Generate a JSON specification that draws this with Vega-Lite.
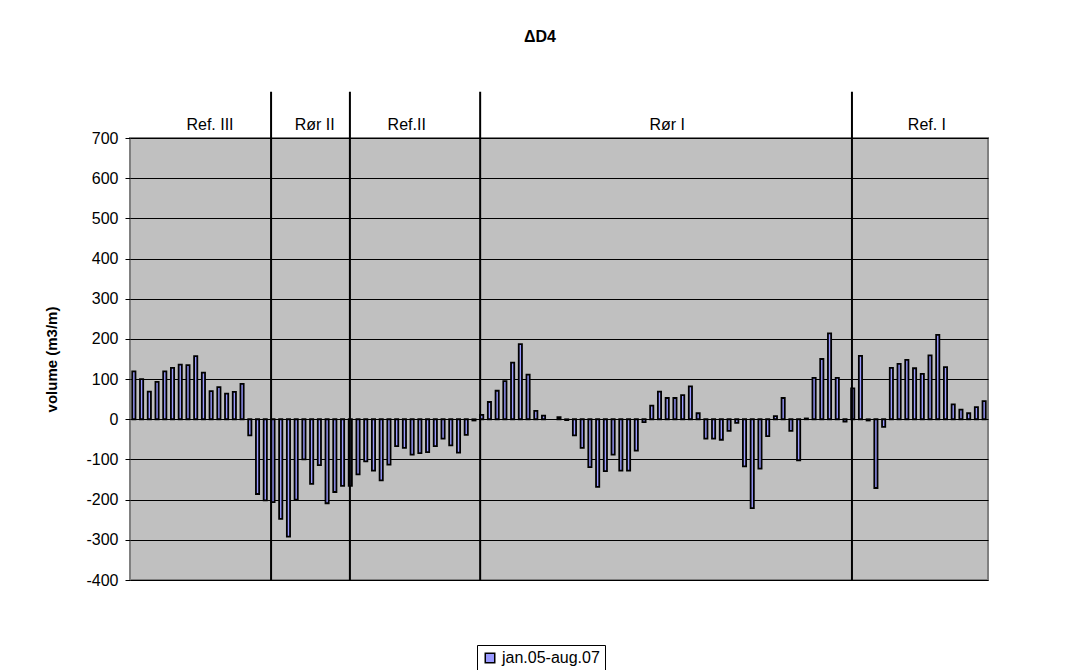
{
  "$schema": "https://vega.github.io/schema/vega-lite/v6.json",
  "autosize": "none",
  "width": 858,
  "height": 442,
  "padding": {"left": 130, "top": 138, "right": 93, "bottom": 90},
  "background": "white",
  "title": {
    "text": "ΔD4",
    "font": "Liberation Sans",
    "fontSize": 16,
    "fontWeight": "bold",
    "color": "black",
    "anchor": "middle",
    "dx": -19,
    "offset": 46
  },
  "config": {
    "view": {"fill": "#C0C0C0", "stroke": "#808080", "strokeWidth": 2},
    "font": "Liberation Sans"
  },
  "datasets": {
    "volumes": [
      {"pos": 1, "v": 119, "serie": "jan.05-aug.07"},
      {"pos": 2, "v": 100, "serie": "jan.05-aug.07"},
      {"pos": 3, "v": 69, "serie": "jan.05-aug.07"},
      {"pos": 4, "v": 93, "serie": "jan.05-aug.07"},
      {"pos": 5, "v": 119, "serie": "jan.05-aug.07"},
      {"pos": 6, "v": 128, "serie": "jan.05-aug.07"},
      {"pos": 7, "v": 136, "serie": "jan.05-aug.07"},
      {"pos": 8, "v": 135, "serie": "jan.05-aug.07"},
      {"pos": 9, "v": 157, "serie": "jan.05-aug.07"},
      {"pos": 10, "v": 116, "serie": "jan.05-aug.07"},
      {"pos": 11, "v": 70, "serie": "jan.05-aug.07"},
      {"pos": 12, "v": 80, "serie": "jan.05-aug.07"},
      {"pos": 13, "v": 64, "serie": "jan.05-aug.07"},
      {"pos": 14, "v": 68, "serie": "jan.05-aug.07"},
      {"pos": 15, "v": 88, "serie": "jan.05-aug.07"},
      {"pos": 16, "v": -40, "serie": "jan.05-aug.07"},
      {"pos": 17, "v": -186, "serie": "jan.05-aug.07"},
      {"pos": 18, "v": -202, "serie": "jan.05-aug.07"},
      {"pos": 19, "v": -206, "serie": "jan.05-aug.07"},
      {"pos": 20, "v": -248, "serie": "jan.05-aug.07"},
      {"pos": 21, "v": -292, "serie": "jan.05-aug.07"},
      {"pos": 22, "v": -200, "serie": "jan.05-aug.07"},
      {"pos": 23, "v": -100, "serie": "jan.05-aug.07"},
      {"pos": 24, "v": -161, "serie": "jan.05-aug.07"},
      {"pos": 25, "v": -114, "serie": "jan.05-aug.07"},
      {"pos": 26, "v": -209, "serie": "jan.05-aug.07"},
      {"pos": 27, "v": -181, "serie": "jan.05-aug.07"},
      {"pos": 28, "v": -166, "serie": "jan.05-aug.07"},
      {"pos": 29, "v": -166, "serie": "jan.05-aug.07"},
      {"pos": 30, "v": -137, "serie": "jan.05-aug.07"},
      {"pos": 31, "v": -105, "serie": "jan.05-aug.07"},
      {"pos": 32, "v": -128, "serie": "jan.05-aug.07"},
      {"pos": 33, "v": -152, "serie": "jan.05-aug.07"},
      {"pos": 34, "v": -113, "serie": "jan.05-aug.07"},
      {"pos": 35, "v": -67, "serie": "jan.05-aug.07"},
      {"pos": 36, "v": -71, "serie": "jan.05-aug.07"},
      {"pos": 37, "v": -88, "serie": "jan.05-aug.07"},
      {"pos": 38, "v": -84, "serie": "jan.05-aug.07"},
      {"pos": 39, "v": -82, "serie": "jan.05-aug.07"},
      {"pos": 40, "v": -67, "serie": "jan.05-aug.07"},
      {"pos": 41, "v": -48, "serie": "jan.05-aug.07"},
      {"pos": 42, "v": -65, "serie": "jan.05-aug.07"},
      {"pos": 43, "v": -83, "serie": "jan.05-aug.07"},
      {"pos": 44, "v": -39, "serie": "jan.05-aug.07"},
      {"pos": 45, "v": -3, "serie": "jan.05-aug.07"},
      {"pos": 46, "v": 11, "serie": "jan.05-aug.07"},
      {"pos": 47, "v": 43, "serie": "jan.05-aug.07"},
      {"pos": 48, "v": 71, "serie": "jan.05-aug.07"},
      {"pos": 49, "v": 95, "serie": "jan.05-aug.07"},
      {"pos": 50, "v": 141, "serie": "jan.05-aug.07"},
      {"pos": 51, "v": 187, "serie": "jan.05-aug.07"},
      {"pos": 52, "v": 111, "serie": "jan.05-aug.07"},
      {"pos": 53, "v": 21, "serie": "jan.05-aug.07"},
      {"pos": 54, "v": 9, "serie": "jan.05-aug.07"},
      {"pos": 56, "v": 5, "serie": "jan.05-aug.07"},
      {"pos": 57, "v": -2, "serie": "jan.05-aug.07"},
      {"pos": 58, "v": -40, "serie": "jan.05-aug.07"},
      {"pos": 59, "v": -71, "serie": "jan.05-aug.07"},
      {"pos": 60, "v": -119, "serie": "jan.05-aug.07"},
      {"pos": 61, "v": -168, "serie": "jan.05-aug.07"},
      {"pos": 62, "v": -129, "serie": "jan.05-aug.07"},
      {"pos": 63, "v": -88, "serie": "jan.05-aug.07"},
      {"pos": 64, "v": -128, "serie": "jan.05-aug.07"},
      {"pos": 65, "v": -128, "serie": "jan.05-aug.07"},
      {"pos": 66, "v": -78, "serie": "jan.05-aug.07"},
      {"pos": 67, "v": -7, "serie": "jan.05-aug.07"},
      {"pos": 68, "v": 34, "serie": "jan.05-aug.07"},
      {"pos": 69, "v": 69, "serie": "jan.05-aug.07"},
      {"pos": 70, "v": 53, "serie": "jan.05-aug.07"},
      {"pos": 71, "v": 53, "serie": "jan.05-aug.07"},
      {"pos": 72, "v": 60, "serie": "jan.05-aug.07"},
      {"pos": 73, "v": 82, "serie": "jan.05-aug.07"},
      {"pos": 74, "v": 15, "serie": "jan.05-aug.07"},
      {"pos": 75, "v": -48, "serie": "jan.05-aug.07"},
      {"pos": 76, "v": -48, "serie": "jan.05-aug.07"},
      {"pos": 77, "v": -51, "serie": "jan.05-aug.07"},
      {"pos": 78, "v": -29, "serie": "jan.05-aug.07"},
      {"pos": 79, "v": -9, "serie": "jan.05-aug.07"},
      {"pos": 80, "v": -117, "serie": "jan.05-aug.07"},
      {"pos": 81, "v": -221, "serie": "jan.05-aug.07"},
      {"pos": 82, "v": -123, "serie": "jan.05-aug.07"},
      {"pos": 83, "v": -42, "serie": "jan.05-aug.07"},
      {"pos": 84, "v": 8, "serie": "jan.05-aug.07"},
      {"pos": 85, "v": 53, "serie": "jan.05-aug.07"},
      {"pos": 86, "v": -29, "serie": "jan.05-aug.07"},
      {"pos": 87, "v": -102, "serie": "jan.05-aug.07"},
      {"pos": 88, "v": 2, "serie": "jan.05-aug.07"},
      {"pos": 89, "v": 103, "serie": "jan.05-aug.07"},
      {"pos": 90, "v": 150, "serie": "jan.05-aug.07"},
      {"pos": 91, "v": 214, "serie": "jan.05-aug.07"},
      {"pos": 92, "v": 103, "serie": "jan.05-aug.07"},
      {"pos": 93, "v": -6, "serie": "jan.05-aug.07"},
      {"pos": 94, "v": 77, "serie": "jan.05-aug.07"},
      {"pos": 95, "v": 158, "serie": "jan.05-aug.07"},
      {"pos": 96, "v": -3, "serie": "jan.05-aug.07"},
      {"pos": 97, "v": -171, "serie": "jan.05-aug.07"},
      {"pos": 98, "v": -19, "serie": "jan.05-aug.07"},
      {"pos": 99, "v": 128, "serie": "jan.05-aug.07"},
      {"pos": 100, "v": 138, "serie": "jan.05-aug.07"},
      {"pos": 101, "v": 148, "serie": "jan.05-aug.07"},
      {"pos": 102, "v": 127, "serie": "jan.05-aug.07"},
      {"pos": 103, "v": 113, "serie": "jan.05-aug.07"},
      {"pos": 104, "v": 159, "serie": "jan.05-aug.07"},
      {"pos": 105, "v": 210, "serie": "jan.05-aug.07"},
      {"pos": 106, "v": 130, "serie": "jan.05-aug.07"},
      {"pos": 107, "v": 37, "serie": "jan.05-aug.07"},
      {"pos": 108, "v": 24, "serie": "jan.05-aug.07"},
      {"pos": 109, "v": 15, "serie": "jan.05-aug.07"},
      {"pos": 110, "v": 30, "serie": "jan.05-aug.07"},
      {"pos": 111, "v": 45, "serie": "jan.05-aug.07"}
    ],
    "dividers": [
      {"pos": 18.75, "bottom": -400, "top": 815},
      {"pos": 28.95, "bottom": -400, "top": 815},
      {"pos": 45.8, "bottom": -400, "top": 815},
      {"pos": 93.9, "bottom": -400, "top": 815}
    ],
    "sections": [
      {"pos": 10.85, "v": 732, "label": "Ref. III"},
      {"pos": 24.4, "v": 732, "label": "Rør II"},
      {"pos": 36.3, "v": 732, "label": "Ref.II"},
      {"pos": 70.0, "v": 732, "label": "Rør I"},
      {"pos": 103.6, "v": 732, "label": "Ref. I"}
    ]
  },
  "layer": [
    {
      "data": {"name": "volumes"},
      "mark": {"type": "bar", "width": 3.2, "stroke": "black", "strokeWidth": 1.8},
      "encoding": {
        "x": {
          "field": "pos",
          "type": "quantitative",
          "scale": {"domain": [0.5, 111.5], "nice": false, "zero": false, "padding": 0},
          "axis": null
        },
        "y": {
          "field": "v",
          "type": "quantitative",
          "scale": {"domain": [-400, 700], "nice": false, "padding": 0},
          "axis": {
            "title": "volume (m3/m)",
            "titleFont": "Liberation Sans",
            "titleFontSize": 15,
            "titleFontWeight": "bold",
            "titleColor": "black",
            "titlePadding": 26,
            "values": [-400, -300, -200, -100, 0, 100, 200, 300, 400, 500, 600, 700],
            "labelExpr": "replace(datum.label, '\u2212', '-')",
            "labelFont": "Liberation Sans",
            "labelFontSize": 16,
            "labelColor": "black",
            "labelPadding": 7,
            "tickColor": "black",
            "tickSize": 5,
            "domain": false,
            "grid": true,
            "gridColor": "black",
            "gridWidth": 1,
            "gridOpacity": 1
          }
        },
        "color": {
          "field": "serie",
          "type": "nominal",
          "scale": {"range": ["#9999FF"]},
          "legend": {
            "title": null,
            "orient": "none",
            "legendX": 347,
            "legendY": 507,
            "direction": "vertical",
            "symbolType": "square",
            "symbolSize": 90,
            "symbolStrokeColor": "black",
            "symbolStrokeWidth": 1.5,
            "symbolOpacity": 1,
            "labelFont": "Liberation Sans",
            "labelFontSize": 16,
            "labelColor": "black",
            "strokeColor": "black",
            "fillColor": "white",
            "padding": 5
          }
        }
      }
    },
    {
      "data": {"name": "dividers"},
      "mark": {"type": "rule", "color": "black", "strokeWidth": 2},
      "encoding": {
        "x": {"field": "pos", "type": "quantitative"},
        "y": {"field": "bottom", "type": "quantitative"},
        "y2": {"field": "top"}
      }
    },
    {
      "data": {"name": "sections"},
      "mark": {"type": "text", "font": "Liberation Sans", "fontSize": 16, "color": "black", "baseline": "middle", "align": "center"},
      "encoding": {
        "x": {"field": "pos", "type": "quantitative"},
        "y": {"field": "v", "type": "quantitative"},
        "text": {"field": "label"}
      }
    }
  ]
}
